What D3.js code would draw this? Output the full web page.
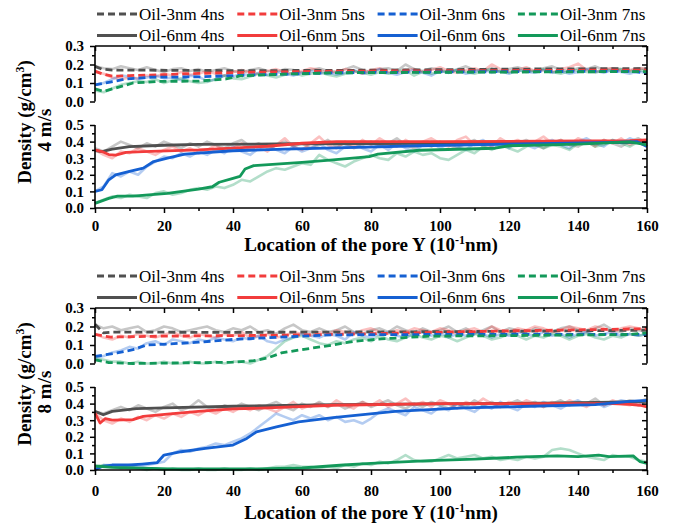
<!DOCTYPE html>
<html>
<head>
<meta charset="utf-8">
<script src="https://cdn.jsdelivr.net/npm/d3@7/dist/d3.min.js"></script>
<style>
  body { margin: 0; background: #fff; }
  svg { display: block; }
</style>
</head>
<body>
<svg id="chart" width="674" height="524"></svg>
<script>
// ---------- data ----------
// raw density profiles are sampled every 2.5 (10^-1 nm) from 0 to 160
const rawStep = 2.5;
const times = ["4ns", "5ns", "6ns", "7ns"];
const colors = ["#505050", "#f23c3c", "#1560d2", "#13995a"];
const xMajorTicks = [0, 20, 40, 60, 80, 100, 120, 140, 160];
const xMinorTicks = [10, 30, 50, 70, 90, 110, 130, 150];
const yTicks3nm = [0, 0.1, 0.2, 0.3];
const yMinor3nm = [0.05, 0.15, 0.25];
const yTicks6nm = [0, 0.1, 0.2, 0.3, 0.4, 0.5];
const yMinor6nm = [0.05, 0.15, 0.25, 0.35, 0.45];

// 4 m/s, Oil-3nm raw
const r4_3_4ns = [0.19,0.18,0.175,0.19,0.18,0.17,0.185,0.17,0.16,0.175,0.18,0.165,0.175,
  0.16,0.17,0.18,0.165,0.155,0.17,0.18,0.165,0.16,0.175,0.17,0.155,0.17,
  0.18,0.165,0.16,0.175,0.19,0.17,0.16,0.175,0.18,0.165,0.2,0.175,0.165,
  0.18,0.17,0.16,0.175,0.19,0.17,0.165,0.18,0.16,0.175,0.185,0.17,0.165,
  0.18,0.19,0.17,0.165,0.18,0.175,0.19,0.17,0.18,0.175,0.165,0.18,0.175];
const r4_3_5ns = [0.16,0.15,0.13,0.12,0.13,0.125,0.14,0.135,0.15,0.14,0.16,0.145,0.15,
  0.165,0.15,0.14,0.16,0.17,0.155,0.15,0.165,0.175,0.16,0.15,0.165,0.18,
  0.17,0.155,0.16,0.175,0.165,0.15,0.17,0.18,0.16,0.155,0.17,0.175,0.16,
  0.17,0.185,0.165,0.155,0.17,0.18,0.165,0.2,0.175,0.16,0.17,0.185,0.165,
  0.17,0.16,0.175,0.185,0.205,0.17,0.16,0.175,0.18,0.165,0.17,0.18,0.175];
const r4_3_6ns = [0.09,0.1,0.12,0.14,0.135,0.12,0.13,0.14,0.125,0.13,0.115,0.14,0.135,
  0.11,0.12,0.14,0.135,0.15,0.14,0.155,0.145,0.16,0.15,0.14,0.155,0.165,
  0.15,0.16,0.145,0.155,0.17,0.15,0.16,0.175,0.155,0.145,0.16,0.17,0.155,
  0.14,0.165,0.155,0.17,0.15,0.16,0.175,0.155,0.165,0.15,0.17,0.16,0.155,
  0.17,0.155,0.165,0.15,0.16,0.175,0.165,0.155,0.17,0.16,0.15,0.165,0.15];
const r4_3_7ns = [0.06,0.05,0.07,0.09,0.1,0.11,0.105,0.12,0.1,0.115,0.125,0.11,0.1,
  0.105,0.12,0.14,0.125,0.12,0.135,0.15,0.14,0.13,0.145,0.155,0.14,0.15,
  0.16,0.145,0.135,0.15,0.165,0.155,0.145,0.16,0.15,0.165,0.17,0.14,0.16,
  0.15,0.165,0.155,0.17,0.16,0.15,0.165,0.175,0.16,0.155,0.17,0.16,0.165,
  0.175,0.16,0.15,0.165,0.17,0.16,0.155,0.17,0.165,0.175,0.16,0.165,0.17];

// 4 m/s, Oil-6nm raw
const r4_6_4ns = [0.36,0.34,0.37,0.4,0.38,0.36,0.39,0.37,0.4,0.38,0.36,0.39,0.37,
  0.4,0.38,0.36,0.39,0.41,0.37,0.39,0.36,0.38,0.4,0.37,0.39,0.36,
  0.38,0.41,0.37,0.39,0.36,0.38,0.4,0.37,0.39,0.42,0.38,0.36,0.39,
  0.37,0.4,0.38,0.36,0.39,0.41,0.37,0.38,0.4,0.37,0.39,0.41,0.38,
  0.36,0.39,0.41,0.38,0.37,0.4,0.38,0.41,0.39,0.37,0.4,0.42,0.39];
const r4_6_5ns = [0.35,0.32,0.3,0.34,0.33,0.36,0.34,0.32,0.35,0.37,0.34,0.36,0.33,
  0.35,0.38,0.34,0.36,0.39,0.35,0.37,0.34,0.38,0.42,0.37,0.35,0.39,
  0.43,0.38,0.36,0.4,0.37,0.41,0.38,0.42,0.39,0.37,0.41,0.38,0.4,
  0.42,0.39,0.37,0.41,0.43,0.38,0.4,0.37,0.42,0.39,0.41,0.38,0.4,
  0.43,0.39,0.41,0.38,0.42,0.4,0.37,0.41,0.39,0.42,0.38,0.4,0.41];
const r4_6_6ns = [0.1,0.13,0.21,0.19,0.22,0.2,0.25,0.28,0.31,0.3,0.33,0.31,0.34,
  0.32,0.35,0.33,0.37,0.34,0.32,0.36,0.38,0.35,0.33,0.37,0.34,0.36,
  0.39,0.35,0.33,0.37,0.4,0.36,0.34,0.38,0.35,0.39,0.36,0.34,0.38,
  0.4,0.36,0.39,0.37,0.35,0.39,0.41,0.37,0.39,0.36,0.4,0.38,0.36,
  0.39,0.41,0.38,0.36,0.4,0.42,0.39,0.37,0.41,0.39,0.42,0.4,0.37];
const r4_6_7ns = [0.03,0.05,0.07,0.06,0.08,0.07,0.06,0.09,0.1,0.08,0.09,0.11,0.12,
  0.11,0.13,0.12,0.14,0.17,0.16,0.19,0.22,0.24,0.23,0.25,0.27,0.26,
  0.32,0.29,0.27,0.25,0.28,0.3,0.32,0.3,0.29,0.33,0.31,0.34,0.32,
  0.33,0.3,0.29,0.32,0.35,0.33,0.37,0.35,0.38,0.36,0.34,0.37,0.39,
  0.36,0.38,0.37,0.35,0.39,0.4,0.37,0.38,0.41,0.39,0.37,0.4,0.38];

// 8 m/s, Oil-3nm raw
const r8_3_4ns = [0.21,0.19,0.2,0.18,0.19,0.2,0.17,0.18,0.2,0.19,0.17,0.18,0.19,
  0.2,0.18,0.17,0.19,0.18,0.2,0.17,0.18,0.16,0.19,0.21,0.18,0.17,
  0.19,0.17,0.18,0.2,0.17,0.16,0.18,0.19,0.17,0.2,0.18,0.16,0.19,
  0.17,0.18,0.2,0.17,0.19,0.16,0.18,0.2,0.17,0.19,0.18,0.16,0.19,
  0.18,0.17,0.19,0.2,0.18,0.17,0.19,0.21,0.18,0.17,0.19,0.18,0.17];
const r8_3_5ns = [0.16,0.14,0.13,0.15,0.14,0.16,0.15,0.14,0.155,0.17,0.15,0.14,0.16,
  0.15,0.14,0.16,0.15,0.17,0.14,0.15,0.16,0.14,0.15,0.17,0.16,0.15,
  0.17,0.16,0.18,0.17,0.16,0.18,0.19,0.17,0.16,0.18,0.17,0.19,0.18,
  0.17,0.19,0.18,0.16,0.18,0.19,0.17,0.2,0.18,0.17,0.19,0.18,0.2,
  0.19,0.17,0.18,0.2,0.19,0.18,0.2,0.19,0.17,0.19,0.2,0.19,0.18];
const r8_3_6ns = [0.03,0.04,0.06,0.07,0.09,0.08,0.11,0.12,0.1,0.13,0.12,0.11,0.13,
  0.12,0.14,0.13,0.12,0.14,0.13,0.15,0.12,0.11,0.13,0.14,0.16,0.15,
  0.14,0.16,0.15,0.13,0.17,0.15,0.14,0.16,0.17,0.15,0.14,0.16,0.17,
  0.15,0.17,0.14,0.16,0.15,0.17,0.16,0.14,0.16,0.15,0.17,0.16,0.15,
  0.17,0.15,0.16,0.14,0.16,0.17,0.15,0.16,0.17,0.15,0.16,0.15,0.16];
const r8_3_7ns = [0.03,0.02,0.01,0.01,0.0,0.01,0.0,0.0,0.01,0.0,0.0,0.01,0.0,
  0.0,0.01,0.0,0.01,0.01,0.0,0.02,0.04,0.08,0.12,0.14,0.15,0.13,
  0.11,0.1,0.12,0.11,0.13,0.14,0.12,0.15,0.13,0.12,0.14,0.16,0.14,
  0.13,0.15,0.14,0.12,0.14,0.16,0.15,0.13,0.14,0.16,0.15,0.13,0.15,
  0.14,0.16,0.15,0.13,0.15,0.16,0.14,0.13,0.15,0.14,0.16,0.15,0.16];

// 8 m/s, Oil-6nm raw
const r8_6_4ns = [0.35,0.34,0.36,0.38,0.36,0.39,0.37,0.35,0.38,0.4,0.36,0.38,0.42,
  0.38,0.36,0.39,0.37,0.4,0.38,0.36,0.39,0.41,0.38,0.36,0.4,0.38,
  0.41,0.38,0.4,0.37,0.39,0.41,0.38,0.4,0.42,0.39,0.37,0.4,0.38,
  0.41,0.39,0.37,0.4,0.38,0.42,0.39,0.41,0.38,0.4,0.42,0.39,0.41,
  0.38,0.4,0.42,0.39,0.41,0.4,0.43,0.39,0.41,0.4,0.42,0.41,0.43];
const r8_6_5ns = [0.34,0.3,0.28,0.31,0.29,0.32,0.3,0.33,0.31,0.34,0.32,0.35,0.33,
  0.36,0.34,0.37,0.35,0.38,0.36,0.39,0.37,0.35,0.38,0.41,0.37,0.39,
  0.4,0.38,0.42,0.39,0.37,0.41,0.39,0.42,0.38,0.4,0.43,0.39,0.41,
  0.38,0.42,0.4,0.37,0.41,0.39,0.43,0.4,0.38,0.41,0.39,0.42,0.4,
  0.38,0.41,0.39,0.42,0.4,0.38,0.41,0.39,0.42,0.4,0.39,0.41,0.38];
const r8_6_6ns = [0.0,0.03,0.03,0.02,0.03,0.02,0.03,0.04,0.05,0.1,0.12,0.11,0.13,
  0.14,0.16,0.15,0.17,0.19,0.22,0.26,0.3,0.34,0.32,0.3,0.33,0.31,
  0.33,0.3,0.32,0.29,0.3,0.28,0.31,0.35,0.37,0.35,0.33,0.38,0.36,
  0.34,0.38,0.36,0.4,0.37,0.35,0.39,0.37,0.41,0.38,0.36,0.4,0.38,
  0.41,0.39,0.37,0.4,0.42,0.39,0.41,0.38,0.4,0.42,0.41,0.39,0.42];
const r8_6_7ns = [0.02,0.03,0.02,0.01,0.02,0.01,0.0,0.01,0.0,0.01,0.0,0.0,0.01,
  0.0,0.0,0.01,0.0,0.0,0.01,0.0,0.01,0.02,0.02,0.03,0.02,0.02,
  0.01,0.02,0.01,0.03,0.02,0.04,0.03,0.05,0.04,0.06,0.09,0.06,0.05,
  0.05,0.07,0.09,0.07,0.08,0.09,0.07,0.08,0.06,0.07,0.06,0.08,0.07,
  0.08,0.12,0.13,0.12,0.1,0.08,0.07,0.06,0.09,0.08,0.08,0.06,0.05];

// smoothed profiles as [position, density]
const s4_3_4ns = [[0,0.19],[2,0.175],[5,0.17],[40,0.167],[70,0.168],[100,0.172],[130,0.176],[160,0.178]];
const s4_3_5ns = [[0,0.164],[2,0.15],[5,0.137],[10,0.14],[20,0.145],[30,0.152],[45,0.158],[70,0.164],[100,0.166],[130,0.168],[160,0.17]];
const s4_3_6ns = [[0,0.09],[4,0.104],[9,0.122],[16,0.131],[30,0.133],[40,0.14],[55,0.148],[70,0.155],[100,0.16],[130,0.162],[155,0.163],[160,0.155]];
const s4_3_7ns = [[0,0.068],[2.5,0.055],[6,0.073],[11,0.1],[19,0.109],[30,0.11],[38,0.122],[42,0.138],[55,0.148],[70,0.155],[100,0.158],[130,0.16],[160,0.162]];

const s4_6_4ns = [[0,0.345],[2,0.34],[5,0.355],[10,0.37],[20,0.378],[30,0.383],[60,0.387],[100,0.39],[140,0.392],[160,0.395]];
const s4_6_5ns = [[0,0.35],[2,0.34],[4,0.322],[6,0.318],[9,0.335],[14,0.34],[30,0.35],[50,0.372],[60,0.39],[70,0.4],[100,0.4],[130,0.402],[155,0.405],[160,0.41]];
const s4_6_6ns = [[0,0.1],[2,0.11],[4,0.17],[6,0.2],[10,0.22],[14,0.24],[17,0.28],[21,0.3],[26,0.325],[30,0.33],[40,0.345],[55,0.355],[70,0.362],[94,0.375],[120,0.385],[150,0.395],[157,0.4],[160,0.37]];
const s4_6_7ns = [[0,0.028],[4,0.058],[6.5,0.072],[11,0.072],[21,0.088],[30,0.114],[34,0.128],[36,0.155],[40,0.178],[42,0.19],[43.5,0.235],[46,0.255],[60,0.275],[69,0.29],[79.5,0.31],[82,0.325],[94,0.348],[116,0.36],[120,0.375],[140,0.385],[155,0.398],[160,0.38]];

const s8_3_4ns = [[0,0.212],[2.4,0.166],[5,0.17],[40,0.168],[70,0.17],[100,0.172],[130,0.175],[160,0.18]];
const s8_3_5ns = [[0,0.157],[2,0.15],[4.6,0.143],[20,0.148],[50,0.152],[69,0.157],[90,0.165],[116,0.175],[140,0.182],[160,0.188]];
const s8_3_6ns = [[0,0.038],[6.4,0.057],[11,0.075],[15,0.1],[21,0.105],[30,0.115],[40,0.13],[50,0.139],[69,0.155],[100,0.157],[130,0.157],[160,0.158]];
const s8_3_7ns = [[0,0.02],[4,0.005],[11,0.0],[40,0.007],[46,0.015],[50,0.03],[54,0.057],[60,0.075],[69,0.1],[75,0.12],[83,0.133],[97,0.148],[116,0.15],[155,0.157],[160,0.165]];

const s8_6_4ns = [[0,0.353],[2.4,0.333],[5,0.353],[12,0.37],[20,0.374],[40,0.384],[69,0.394],[100,0.398],[130,0.402],[150,0.408],[160,0.414]];
const s8_6_5ns = [[0,0.343],[1.5,0.283],[3,0.31],[5,0.3],[11,0.303],[14,0.323],[21,0.337],[30,0.353],[40,0.368],[50,0.374],[69,0.39],[100,0.4],[150,0.4],[155,0.395],[158,0.39],[160,0.38]];
const s8_6_6ns = [[0,0.004],[2.5,0.024],[5,0.03],[10,0.03],[13.7,0.036],[18,0.044],[20,0.09],[25,0.11],[32,0.13],[40,0.15],[44,0.19],[46.8,0.23],[52.6,0.26],[59,0.29],[69,0.315],[87,0.353],[107,0.374],[126,0.384],[145,0.394],[155,0.414],[160,0.42]];
const s8_6_7ns = [[0,0.024],[5,0.016],[22,0.006],[47,0.006],[60,0.012],[72,0.03],[80,0.04],[97,0.056],[110,0.066],[122,0.077],[134,0.085],[140,0.08],[146,0.09],[149,0.08],[156,0.085],[158,0.05],[160,0.04]];

// ---------- layout ----------
const W = 674, H = 524;
const PLOT_L = 95, PLOT_R = 647;
const SERIF = "'Liberation Serif','Times New Roman',Times,serif";

const blocks = [
  { speed: "4 m/s", offset: 0, labelPad: 7, titleY: 251,
    raw3: [r4_3_4ns, r4_3_5ns, r4_3_6ns, r4_3_7ns], smooth3: [s4_3_4ns, s4_3_5ns, s4_3_6ns, s4_3_7ns],
    raw6: [r4_6_4ns, r4_6_5ns, r4_6_6ns, r4_6_7ns], smooth6: [s4_6_4ns, s4_6_5ns, s4_6_6ns, s4_6_7ns] },
  { speed: "8 m/s", offset: 262, labelPad: 10, titleY: 257,
    raw3: [r8_3_4ns, r8_3_5ns, r8_3_6ns, r8_3_7ns], smooth3: [s8_3_4ns, s8_3_5ns, s8_3_6ns, s8_3_7ns],
    raw6: [r8_6_4ns, r8_6_5ns, r8_6_6ns, r8_6_7ns], smooth6: [s8_6_4ns, s8_6_5ns, s8_6_6ns, s8_6_7ns] }
];

const svg = d3.select("#chart");
svg.append("rect").attr("width", W).attr("height", H).attr("fill", "#fff");

const x = d3.scaleLinear().domain([0, 160]).range([PLOT_L, PLOT_R]);

const rawLine = (y) => d3.line().x((d, i) => x(i * rawStep)).y(d => y(d));
const smoothLine = (y) => d3.line().x(d => x(d[0])).y(d => y(d[1]));

function styleTickText(sel) {
  sel.selectAll("text").attr("font-family", SERIF).attr("font-weight", "bold")
    .attr("font-size", 15).attr("fill", "#000");
}

function drawPanel(g, cfg) {
  const y = d3.scaleLinear().domain(cfg.domain).range([cfg.bottom, cfg.top]);

  // faint raw profiles
  cfg.raw.forEach((vals, k) => {
    g.append("path").datum(vals)
      .attr("d", rawLine(y))
      .attr("fill", "none").attr("stroke", colors[k])
      .attr("stroke-width", 2.6).attr("stroke-opacity", 0.32)
      .attr("stroke-linejoin", "round");
  });
  // smoothed profiles
  cfg.smooth.forEach((pts, k) => {
    g.append("path").datum(pts)
      .attr("d", smoothLine(y))
      .attr("fill", "none").attr("stroke", colors[k])
      .attr("stroke-width", 2.8)
      .attr("stroke-dasharray", cfg.dashed ? "7,4" : null)
      .attr("stroke-linejoin", "round");
  });

  // left axis: outward ticks with labels
  const left = g.append("g").attr("transform", `translate(${PLOT_L},0)`)
    .call(d3.axisLeft(y).tickValues(cfg.ticks).tickFormat(d3.format(".1f")).tickSize(5).tickPadding(6));
  left.select(".domain").remove();
  styleTickText(left);
  const leftMinor = g.append("g").attr("transform", `translate(${PLOT_L},0)`)
    .call(d3.axisLeft(y).tickValues(cfg.minor).tickFormat("").tickSize(3));
  leftMinor.select(".domain").remove();

  // right axis: inward ticks
  const right = g.append("g").attr("transform", `translate(${PLOT_R},0)`)
    .call(d3.axisLeft(y).tickValues(cfg.ticks).tickFormat("").tickSize(5));
  right.select(".domain").remove();
  const rightMinor = g.append("g").attr("transform", `translate(${PLOT_R},0)`)
    .call(d3.axisLeft(y).tickValues(cfg.minor).tickFormat("").tickSize(3));
  rightMinor.select(".domain").remove();

  // frame sides
  const frame = g.append("g").attr("stroke", "#000").attr("stroke-width", 1.6).attr("fill", "none");
  frame.append("line").attr("x1", PLOT_L).attr("x2", PLOT_L).attr("y1", cfg.top).attr("y2", cfg.bottom);
  frame.append("line").attr("x1", PLOT_R).attr("x2", PLOT_R).attr("y1", cfg.top).attr("y2", cfg.bottom);

  if (cfg.topEdge) {
    frame.append("line").attr("x1", PLOT_L).attr("x2", PLOT_R).attr("y1", cfg.top).attr("y2", cfg.top);
    const t1 = g.append("g").attr("transform", `translate(0,${cfg.top})`)
      .call(d3.axisBottom(x).tickValues(xMajorTicks).tickFormat("").tickSize(5));
    t1.select(".domain").remove();
    const t2 = g.append("g").attr("transform", `translate(0,${cfg.top})`)
      .call(d3.axisBottom(x).tickValues(xMinorTicks).tickFormat("").tickSize(3));
    t2.select(".domain").remove();
  }
  if (cfg.bottomEdge) {
    frame.append("line").attr("x1", PLOT_L).attr("x2", PLOT_R).attr("y1", cfg.bottom).attr("y2", cfg.bottom);
    const b1 = g.append("g").attr("transform", `translate(0,${cfg.bottom})`)
      .call(d3.axisBottom(x).tickValues(xMajorTicks).tickFormat(d3.format("d")).tickSize(5).tickPadding(cfg.labelPad));
    b1.select(".domain").remove();
    styleTickText(b1);
    const b2 = g.append("g").attr("transform", `translate(0,${cfg.bottom})`)
      .call(d3.axisBottom(x).tickValues(xMinorTicks).tickFormat("").tickSize(3));
    b2.select(".domain").remove();
  }
  g.selectAll(".tick line").attr("stroke", "#000").attr("stroke-width", 1.5);
}

blocks.forEach(blk => {
  const g = svg.append("g").attr("transform", `translate(0,${blk.offset})`);

  // legend: dashed row for 3 nm, solid row for 6 nm
  const legend = g.append("g").attr("font-family", SERIF).attr("font-size", 17);
  [["Oil-3nm", true, 14], ["Oil-6nm", false, 35.5]].forEach(([name, dashed, ly]) => {
    times.forEach((t, k) => {
      const lx = 97 + k * 140.3;
      legend.append("line")
        .attr("x1", lx).attr("x2", lx + 40).attr("y1", ly).attr("y2", ly)
        .attr("stroke", colors[k]).attr("stroke-width", 2.8)
        .attr("stroke-dasharray", dashed ? "7,4" : null);
      legend.append("text").attr("x", lx + 42).attr("y", ly).attr("dy", "0.35em")
        .attr("fill", "#000").text(`${name} ${t}`);
    });
  });

  drawPanel(g, { domain: [0, 0.3], top: 46, bottom: 101.5, ticks: yTicks3nm, minor: yMinor3nm,
    raw: blk.raw3, smooth: blk.smooth3, dashed: true, topEdge: true });
  drawPanel(g, { domain: [0, 0.5], top: 125, bottom: 208, ticks: yTicks6nm, minor: yMinor6nm,
    raw: blk.raw6, smooth: blk.smooth6, dashed: false, bottomEdge: true, labelPad: blk.labelPad });

  // y-axis title (two lines)
  const yt = g.append("text")
    .attr("transform", "translate(31,122) rotate(-90)")
    .attr("text-anchor", "middle")
    .attr("font-family", SERIF).attr("font-weight", "bold").attr("font-size", 19).attr("fill", "#000");
  yt.append("tspan").text("Density (g/cm");
  yt.append("tspan").attr("baseline-shift", "super").attr("font-size", 12).text("3");
  yt.append("tspan").text(")");
  g.append("text")
    .attr("transform", "translate(51,130) rotate(-90)")
    .attr("text-anchor", "middle")
    .attr("font-family", SERIF).attr("font-weight", "bold").attr("font-size", 19).attr("fill", "#000")
    .text(blk.speed);

  // x-axis title
  const xt = g.append("text")
    .attr("x", (PLOT_L + PLOT_R) / 2).attr("y", blk.titleY)
    .attr("text-anchor", "middle")
    .attr("font-family", SERIF).attr("font-weight", "bold").attr("font-size", 19).attr("fill", "#000");
  xt.append("tspan").text("Location of the pore Y (10");
  xt.append("tspan").attr("baseline-shift", "super").attr("font-size", 12).text("-1");
  xt.append("tspan").text("nm)");
});
</script>
</body>
</html>
